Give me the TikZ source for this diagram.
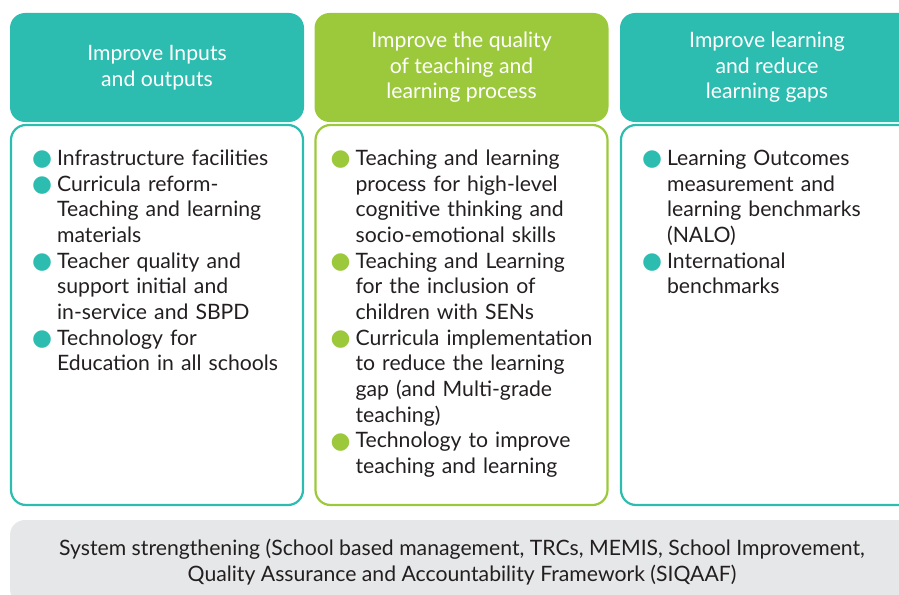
\documentclass[tikz,border=0pt]{standalone}
\usepackage{fontspec}
\setmainfont{Lato}
\newfontfamily\dotfont{DejaVu Sans}
\usetikzlibrary{positioning}

\definecolor{tealc}{HTML}{2CBDB0}
\definecolor{greenc}{HTML}{9CC93C}
\definecolor{greyc}{HTML}{E6E7E8}
\definecolor{inkc}{HTML}{231F20}

\newenvironment{dotlist}[2]{%
  \begin{list}{\textcolor{#1}{\raisebox{-0.3pt}{\scalebox{1.08}{\dotfont\char"25CF}}}}{%
    \setlength\leftmargin{#2}\setlength\labelsep{5pt}%
    \setlength\labelwidth{\dimexpr#2-5pt\relax}%
    \setlength\itemsep{0pt}\setlength\parsep{0pt}%
    \setlength\topsep{0pt}\setlength\partopsep{0pt}}}%
  {\end{list}}

\begin{document}
\begin{tikzpicture}
    [x=1pt, y=-1pt,
    head/.style={fill=#1, rounded corners=15pt, inner sep=0pt,
        minimum width=294pt, minimum height=109pt,
        text=white, align=center, font=\fontsize{21.2}{25.6}\selectfont},
    bodybox/.style={draw=#1, line width=2.2pt, rounded corners=15pt,
        minimum width=292pt, minimum height=380pt},
    items/.style={anchor=base west, inner sep=0pt, text width=280pt,
        align=left, text=inkc, font=\fontsize{21.2}{25.67}\selectfont},
    sysbar/.style={fill=greyc, rounded corners=15pt, inner sep=0pt,
        minimum width=904pt, minimum height=84pt,
        text=inkc, align=center, font=\fontsize{21.2}{25.6}\selectfont}]
    \clip (0,0) rectangle (899,594);

    \node[head=tealc] (headA) at (157,67.5) {Improve Inputs\\and outputs};
    \node[head=greenc] (headB) at (461.5,67.5) {Improve the quality\\of teaching and\\learning process};
    \node[head=tealc] (headC) at (767,67.5) {Improve learning\\and reduce\\learning gaps};

    \node[bodybox=tealc] (boxA) at (157,315) {};
    \node[bodybox=greenc] (boxB) at (461.5,315) {};
    \node[bodybox=tealc] (boxC) at (767,315) {};

    \node[items] (listA) at ([shift={(20,16)}]boxA.north west) {%
      \begin{dotlist}{tealc}{27pt}
      \item Infrastructure facilities
      \item Curricula reform-\\Teaching and learning\\materials
      \item Teacher quality and\\support initial and\\in-service and SBPD
      \item Technology for\\Education in all schools
      \end{dotlist}};
    \node[items] (listB) at ([shift={(14,16)}]boxB.north west) {%
      \begin{dotlist}{greenc}{27pt}
      \item Teaching and learning\\process for high-level\\cognitive thinking and\\socio-emotional skills
      \item Teaching and Learning\\for the inclusion of\\children with SENs
      \item Curricula implementation\\to reduce the learning\\gap (and Multi-grade\\teaching)
      \item Technology to improve\\teaching and learning
      \end{dotlist}};
    \node[items] (listC) at ([shift={(20,16)}]boxC.north west) {%
      \begin{dotlist}{tealc}{27pt}
      \item Learning Outcomes\\measurement and\\learning benchmarks\\(NALO)
      \item International\\benchmarks
      \end{dotlist}};

    \node[sysbar] (sys) at (462,562) {System strengthening (School based management, TRCs, MEMIS, School Improvement,\\Quality Assurance and Accountability Framework (SIQAAF)};
\end{tikzpicture}
\end{document}
